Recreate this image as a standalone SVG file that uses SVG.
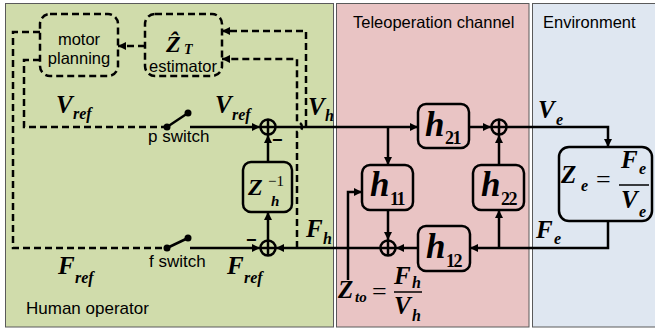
<svg xmlns="http://www.w3.org/2000/svg" width="655" height="330" viewBox="0 0 655 330">
<defs>
<marker id="ah" viewBox="0 0 10 10" refX="10" refY="5" markerWidth="8" markerHeight="8" markerUnits="userSpaceOnUse" orient="auto">
<path d="M0,0 L10,5 L0,10 z" fill="#000"/>
</marker>
<style>
.ln{fill:none;stroke:#000;stroke-width:2.5}
.ds{fill:none;stroke:#000;stroke-width:2.5;stroke-dasharray:7 4}
.box{fill:none;stroke:#000;stroke-width:2.5}
.dbox{fill:none;stroke:#000;stroke-width:2.5;stroke-dasharray:7 4}
.sum{fill:none;stroke:#000;stroke-width:2.5}
.m{font-family:"Liberation Serif","DejaVu Serif","Times New Roman",serif;font-weight:bold;font-style:italic;fill:#000}
.n{font-family:"Liberation Serif","Times New Roman",serif;font-weight:bold;fill:#000}
.r{font-family:"Liberation Serif","Times New Roman",serif;fill:#000}
.s{font-family:"Liberation Sans",Arial,sans-serif;fill:#000}
.big{font-size:25px}
.sub{font-size:16px}
.h{font-size:35px}
.dg{font-size:18px;letter-spacing:-1.5px}
.pan{stroke:#5a5a5a;stroke-width:1}
</style>
</defs>

<!-- background panels -->
<rect width="655" height="330" fill="#fff"/>
<g id="panel-human">
<rect class="pan" x="5.5" y="3.5" width="328" height="323.5" fill="#d0dcab"/>
<text class="s" x="26" y="314" font-size="17" fill="#545a40">Human operator</text>
</g>
<g id="panel-channel">
<rect class="pan" x="336.5" y="3.5" width="192.5" height="323.5" fill="#e9c4c4"/>
<text class="s" x="353" y="28" font-size="16.5" fill="#7a2d2d">Teleoperation channel</text>
</g>
<g id="panel-environment">
<rect class="pan" x="532.5" y="3.5" width="126" height="323.5" fill="#dfe7f1"/>
<text class="s" x="543" y="28" font-size="16.5" fill="#2f4a78">Environment</text>
</g>

<!-- connectors -->
<g id="connectors">
<!-- dashed paths of the operator model -->
<path class="ds" d="M145,46 H118" marker-end="url(#ah)"/>
<path class="ds" d="M306,127 V31 H222" marker-end="url(#ah)"/>
<path class="ds" d="M297,248 V132 A5,5 0 0 0 297,122 V59 H222" marker-end="url(#ah)"/>
<path class="ds" d="M40,32 H13 V248 H167"/>
<path class="ds" d="M40,60 H24 V127 H167"/>
<!-- switches -->
<line class="ln" x1="167" y1="127" x2="188" y2="113"/>
<circle cx="167" cy="127" r="3.5" fill="#000"/>
<circle cx="188" cy="113" r="3.5" fill="#000"/>
<line class="ln" x1="167" y1="248" x2="188" y2="238"/>
<circle cx="167" cy="248" r="3.5" fill="#000"/>
<circle cx="188" cy="238" r="3.5" fill="#000"/>
<!-- solid signal lines -->
<path class="ln" d="M190,127 H260" marker-end="url(#ah)"/>
<path class="ln" d="M276,127 H418" marker-end="url(#ah)"/>
<path class="ln" d="M388,127 V165" marker-end="url(#ah)"/>
<path class="ln" d="M268,162 V135" marker-end="url(#ah)"/>
<path class="ln" d="M268,240 V212" marker-end="url(#ah)"/>
<path class="ln" d="M190,248 H260" marker-end="url(#ah)"/>
<path class="ln" d="M380,248 H276" marker-end="url(#ah)"/>
<path class="ln" d="M388,210 V240" marker-end="url(#ah)"/>
<path class="ln" d="M418,248 H396" marker-end="url(#ah)"/>
<path class="ln" d="M608,221 V248 H470" marker-end="url(#ah)"/>
<path class="ln" d="M499,248 V210" marker-end="url(#ah)"/>
<path class="ln" d="M499,165 V135" marker-end="url(#ah)"/>
<path class="ln" d="M469,127 H491" marker-end="url(#ah)"/>
<path class="ln" d="M507,127 H608 V147" marker-end="url(#ah)"/>
<path class="ln" d="M348,280 V192 H362" marker-end="url(#ah)"/>
</g>

<!-- summing junctions -->
<g id="sum-v">
<circle class="sum" cx="268" cy="127" r="7.5"/>
<path class="ln" d="M260.5,127 H275.5 M268,119.5 V134.5"/>
<text class="s" x="272" y="146" font-size="18" font-weight="bold">−</text>
</g>
<g id="sum-f">
<circle class="sum" cx="268" cy="248" r="7.5"/>
<path class="ln" d="M260.5,248 H275.5 M268,240.5 V255.5"/>
<text class="s" x="246" y="246" font-size="18" font-weight="bold">−</text>
</g>
<g id="sum-master">
<circle class="sum" cx="388" cy="248" r="7.5"/>
<path class="ln" d="M380.5,248 H395.5 M388,240.5 V255.5"/>
</g>
<g id="sum-slave">
<circle class="sum" cx="499" cy="127" r="7.5"/>
<path class="ln" d="M491.5,127 H506.5 M499,119.5 V134.5"/>
</g>

<!-- operator blocks -->
<g id="motor-planning">
<rect class="dbox" x="40" y="14" width="78" height="62" rx="10"/>
<text class="s" x="79" y="45" font-size="16.5" text-anchor="middle">motor</text>
<text class="s" x="79" y="64" font-size="16.5" text-anchor="middle">planning</text>
</g>
<g id="estimator">
<rect class="dbox" x="145" y="14" width="77" height="62" rx="10"/>
<text class="m" x="166" y="52" font-size="24">Ẑ</text>
<text class="m" x="184" y="54" font-size="14">T</text>
<text class="s" x="183" y="72" font-size="16.5" text-anchor="middle">estimator</text>
</g>
<g id="zh-inverse">
<rect class="box" x="243" y="162" width="49" height="50" rx="8"/>
<text class="m" x="248" y="195" font-size="24">Z</text>
<text class="r" x="268" y="186" font-size="15">−1</text>
<text class="m" x="271" y="206" font-size="15">h</text>
</g>

<!-- channel blocks -->
<g id="h21">
<rect class="box" x="418" y="104" width="51" height="44" rx="8"/>
<text class="m h" x="425" y="136">h</text>
<text class="n dg" x="445" y="144">21</text>
</g>
<g id="h11">
<rect class="box" x="362" y="165" width="51" height="45" rx="8"/>
<text class="m h" x="370" y="196">h</text>
<text class="n dg" x="390" y="205">11</text>
</g>
<g id="h22">
<rect class="box" x="473" y="165" width="51" height="45" rx="8"/>
<text class="m h" x="481" y="196">h</text>
<text class="n dg" x="501" y="205">22</text>
</g>
<g id="h12">
<rect class="box" x="418" y="226" width="52" height="45" rx="8"/>
<text class="m h" x="426" y="258">h</text>
<text class="n dg" x="446" y="267">12</text>
</g>

<!-- environment block -->
<g id="ze">
<rect class="box" x="559" y="147" width="93" height="74" rx="10"/>
<text class="m big" x="561" y="183">Z</text>
<text class="m sub" x="581" y="191">e</text>
<text class="r" x="596" y="188" font-size="26">=</text>
<text class="m big" x="621" y="168">F</text>
<text class="m sub" x="639" y="174">e</text>
<line x1="619" y1="185" x2="649" y2="185" stroke="#000" stroke-width="1.5"/>
<text class="m big" x="621" y="208">V</text>
<text class="m sub" x="639" y="217">e</text>
</g>

<!-- signal labels -->
<g id="labels">
<text class="m big" x="56" y="113">V</text><text class="m sub" x="73" y="119">ref</text>
<text class="m big" x="215" y="113">V</text><text class="m sub" x="232" y="120">ref</text>
<text class="m big" x="308" y="115">V</text><text class="m sub" x="325" y="121">h</text>
<text class="m big" x="538" y="118">V</text><text class="m sub" x="556" y="125">e</text>
<text class="m big" x="536" y="238">F</text><text class="m sub" x="554" y="244">e</text>
<text class="m big" x="306" y="237">F</text><text class="m sub" x="323" y="244">h</text>
<text class="m big" x="58" y="274">F</text><text class="m sub" x="75" y="283">ref</text>
<text class="m big" x="227" y="274">F</text><text class="m sub" x="244" y="283">ref</text>
<text class="s" x="148" y="142" font-size="17">p switch</text>
<text class="s" x="149" y="267" font-size="17">f switch</text>
<!-- transmitted impedance -->
<text class="m big" x="338" y="298">Z</text><text class="m" x="355" y="302" font-size="15">to</text>
<text class="r" x="372" y="300" font-size="26">=</text>
<text class="m big" x="394" y="284">F</text><text class="m sub" x="412" y="288">h</text>
<line x1="394" y1="292" x2="422" y2="292" stroke="#000" stroke-width="1.5"/>
<text class="m big" x="394" y="314">V</text><text class="m sub" x="412" y="321">h</text>
</g>
</svg>
